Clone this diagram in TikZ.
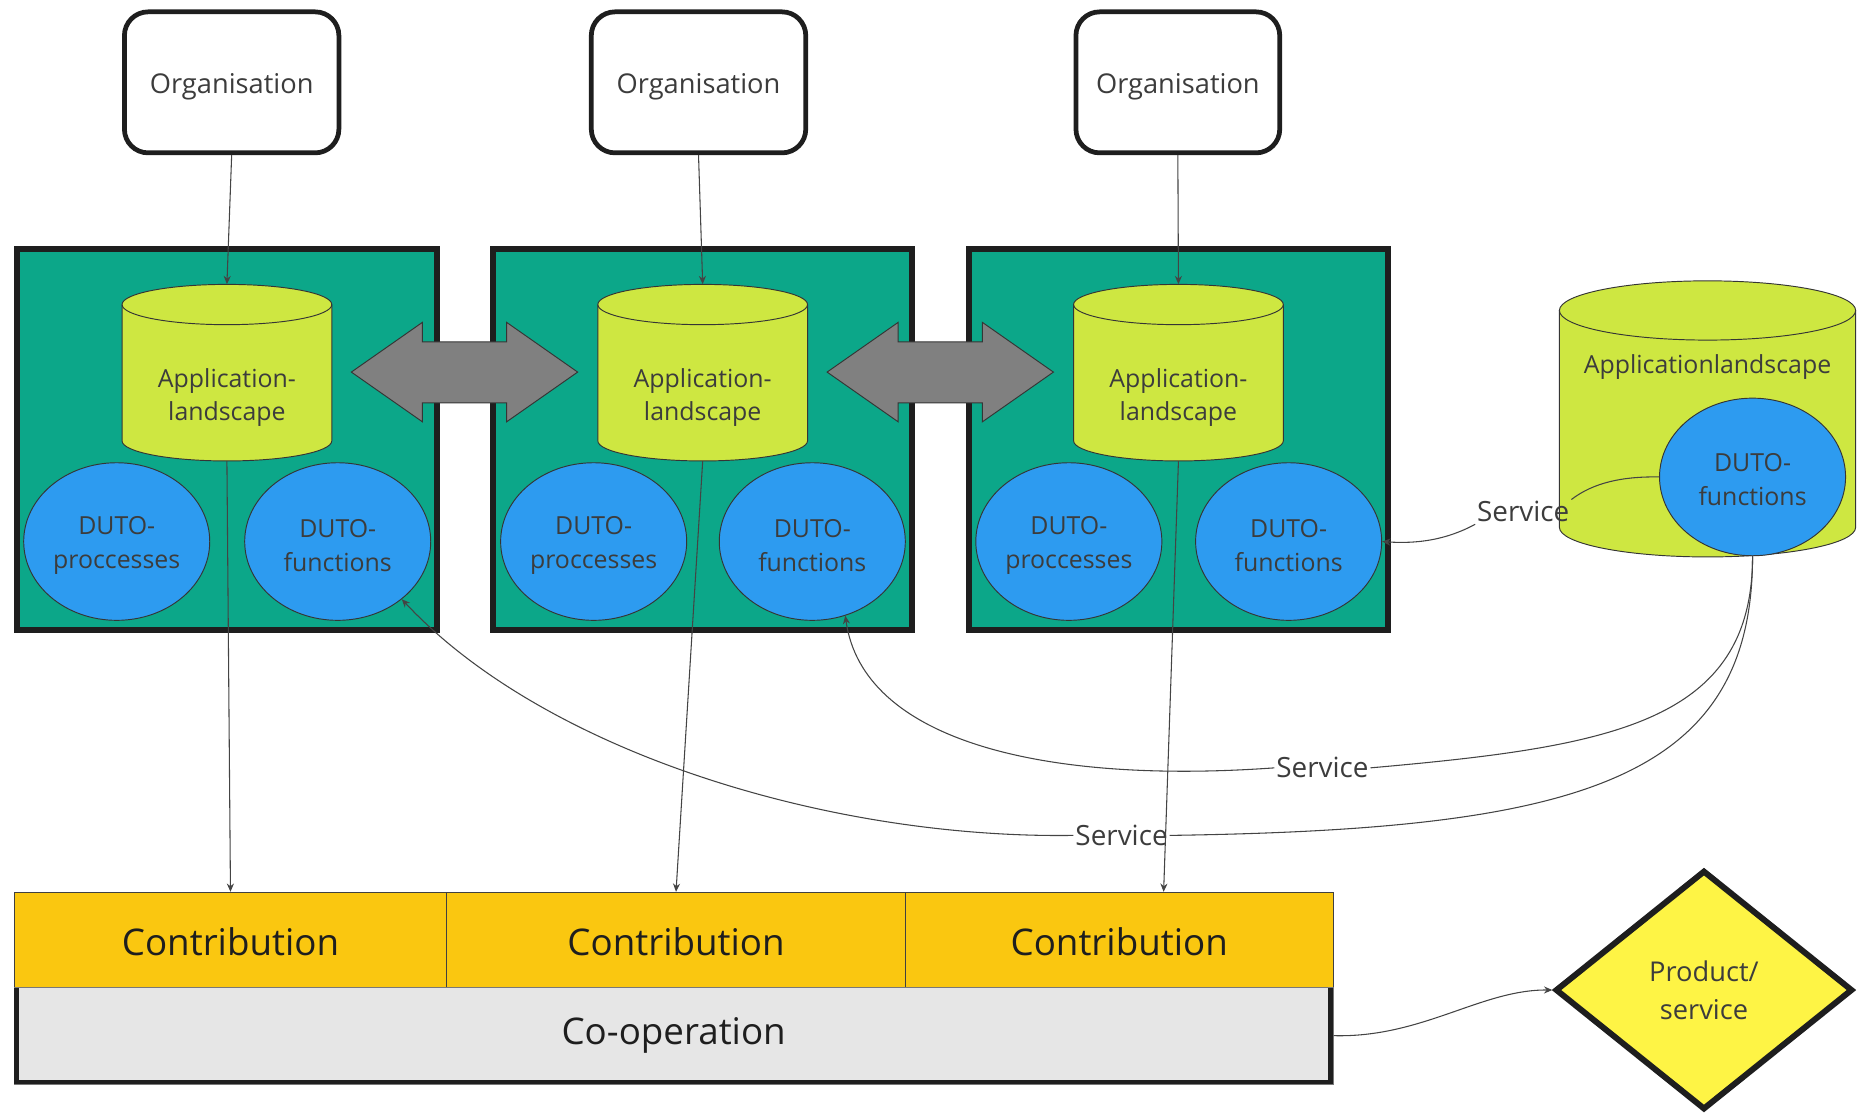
\documentclass[tikz,border=0pt]{standalone}
\usepackage{fontspec}
\setmainfont{Open Sans}
\usetikzlibrary{shapes.geometric,arrows.meta}
\definecolor{grn}{HTML}{0CA789}
\definecolor{cylf}{HTML}{CEE741}
\definecolor{blu}{HTML}{2D9BF0}
\definecolor{agrey}{HTML}{808080}
\definecolor{cyel}{HTML}{FAC710}
\definecolor{coopf}{HTML}{E6E6E6}
\definecolor{dyel}{HTML}{FEF445}
\definecolor{txt}{HTML}{3C3C3C}
\definecolor{lin}{HTML}{444444}
\definecolor{edge}{HTML}{1E1E1E}
\newcommand\mycyl[5]{%
  \fill[cylf] ({#1-#4},{#2+#5}) -- ({#1-#4},{#3-#5}) arc[start angle=180,end angle=0,x radius=#4,y radius=#5] -- ({#1+#4},{#2+#5}) arc[start angle=0,end angle=-180,x radius=#4,y radius=#5] -- cycle;
  \draw[draw=edge!90, line width=0.8pt] ({#1-#4},{#2+#5}) -- ({#1-#4},{#3-#5}) arc[start angle=180,end angle=0,x radius=#4,y radius=#5] -- ({#1+#4},{#2+#5});
  \draw[draw=edge!90, line width=0.8pt] (#1,{#2+#5}) ellipse [x radius=#4, y radius=#5];
}
\newcommand\dblarrow[1]{%
  \filldraw[fill=agrey, draw=edge!90, line width=0.8pt] (#1,314) -- ({#1+60},272) -- ({#1+60},288.5) -- ({#1+131},288.5) -- ({#1+131},272) -- ({#1+191},314) -- ({#1+131},356) -- ({#1+131},340) -- ({#1+60},340) -- ({#1+60},356) -- cycle;
}
\begin{document}
\begin{tikzpicture}[x=1pt,y=-1pt,
  orgbox/.style={draw=edge, line width=4pt, rounded corners=20pt, fill=white, minimum height=119pt, inner sep=0, text=txt, font=\fontsize{23}{30}\selectfont, text height=23.5pt, text depth=5.5pt},
  greenbox/.style={draw=edge, fill=grn, line width=5pt, minimum width=354pt, minimum height=321pt, inner sep=0},
  duto/.style={ellipse, draw=edge!90, line width=0.8pt, fill=blu, minimum width=157pt, minimum height=133pt, inner sep=0},
  cylbox/.style={minimum width=177pt, minimum height=149pt, inner sep=0},
  cyltext/.style={align=center, text=txt, font=\fontsize{21}{28.5}\selectfont, inner sep=0},
  conn/.style={draw=lin, line width=0.9pt, -{Stealth[length=7pt,width=6pt]}},
  plainconn/.style={draw=lin, line width=0.9pt},
  svc/.style={text=txt, font=\fontsize{23.5}{27}\selectfont, inner sep=1.5pt},
  contrib/.style={draw=edge!85, line width=0.8pt, fill=cyel, minimum height=80pt, inner sep=0, text=edge, font=\fontsize{31}{36}\selectfont, text height=27.5pt, text depth=0pt},
]
\useasboundingbox (0,0) rectangle (1568,943);

% Organisation boxes
\node[orgbox, minimum width=181pt] (org1) at (195.5,69.5) {Organisation};
\node[orgbox, minimum width=181pt] (org2) at (589.5,69.5) {Organisation};
\node[orgbox, minimum width=172pt] (org3) at (994,69.5) {Organisation};

% green boxes
\node[greenbox] (box1) at (191.5,371) {};
\node[greenbox] (box2) at (593,371) {};
\node[greenbox] (box3) at (994.5,371) {};

% cylinders
\mycyl{191.5}{240}{389}{88.5}{17}
\mycyl{593}{240}{389}{88.5}{17}
\mycyl{994.5}{240}{389}{88.5}{17}
\node[cylbox] (cyl1) at (191.5,314.5) {};
\node[cylbox] (cyl2) at (593,314.5) {};
\node[cylbox] (cyl3) at (994.5,314.5) {};
\node[cyltext] (cyl1t) at (191.5,335.5) {Application-\\landscape};
\node[cyltext] (cyl2t) at (593,335.5) {Application-\\landscape};
\node[cyltext] (cyl3t) at (994.5,335.5) {Application-\\landscape};

% DUTO ellipses
\node[duto] (proc1) at (98.5,457) {};
\node[duto] (func1) at (285,457) {};
\node[duto] (proc2) at (501,457) {};
\node[duto] (func2) at (685.5,457) {};
\node[duto] (proc3) at (902,457) {};
\node[duto] (func3) at (1087.5,457) {};
\node[cyltext] (proc1t) at (98.5,460.5) {DUTO-\\proccesses};
\node[cyltext] (func1t) at (285,460.5) {DUTO-\\functions};
\node[cyltext] (proc2t) at (501,460.5) {DUTO-\\proccesses};
\node[cyltext] (func2t) at (685.5,460.5) {DUTO-\\functions};
\node[cyltext] (proc3t) at (902,460.5) {DUTO-\\proccesses};
\node[cyltext] (func3t) at (1087.5,460.5) {DUTO-\\functions};

% double arrows
\dblarrow{296.5}
\dblarrow{698}

% right big cylinder
\mycyl{1441}{237}{470}{125}{25}
\node[minimum width=250pt, minimum height=233pt, inner sep=0] (bigcyl) at (1441,353.5) {};
\node[cyltext] (bigcylt) at (1441,310) {Applicationlandscape};
\node[duto] (bigfn) at (1479,402.5) {};
\node[cyltext] (bigfnt) at (1479,404.5) {DUTO-\\functions};

% contributions and co-operation
\node[contrib, minimum width=365pt] (con1) at (194.5,793) {Contribution};
\node[contrib, minimum width=387pt] (con2) at (570.5,793) {Contribution};
\node[contrib, minimum width=361pt] (con3) at (944.5,793) {Contribution};
\node[fill=coopf, draw=edge!60, line width=0.8pt, minimum width=1113pt, minimum height=82pt, inner sep=0, text=edge, font=\fontsize{31}{36}\selectfont] (coop) at (568.5,874) {Co-operation};
\draw[draw=edge, line width=4pt] (14,834) -- (14,913) -- (1123,913) -- (1123,834);

% product/service diamond
\node[diamond, draw=edge, line width=5pt, fill=dyel, minimum width=251pt, minimum height=202pt, inner sep=0, align=center, text=txt, font=\fontsize{23}{32}\selectfont] (prod) at (1438,835.5) {Product/\\service};

% service labels
\node[svc] (svc1) at (1285.5,432) {Service};
\node[svc] (svc2) at (1116,648) {Service};
\node[svc] (svc3) at (946.5,705) {Service};

% connectors
\draw[conn] (org1.south) -- (cyl1.north);
\draw[conn] (org2.south) -- (cyl2.north);
\draw[conn] (org3.south) -- (cyl3.north);
\draw[conn] (cyl1.south) -- (con1.north);
\draw[conn] (cyl2.south) -- (con2.north);
\draw[conn] (cyl3.south) -- ([xshift=37.5pt]con3.north);

\draw[plainconn] (bigfn.west) .. controls (1370,402) and (1345,407) .. (svc1.north east);
\draw[conn] (svc1.south west) .. controls (1220,456) and (1195,459) .. (func3.east);

\draw[plainconn] (bigfn.south) .. controls (1479,610) and (1360,630) .. (svc2.east);
\draw[conn] (svc2.west) .. controls (880,662) and (728,625) .. (func2.-66);

\draw[plainconn] (bigfn.south) .. controls (1479,660) and (1330,700) .. (svc3.east);
\draw[conn] (svc3.west) .. controls (700,708) and (460,635) .. (func1.-42);

\draw[conn] (coop.east) .. controls (1200,876) and (1250,835) .. (prod.west);
\end{tikzpicture}
\end{document}
